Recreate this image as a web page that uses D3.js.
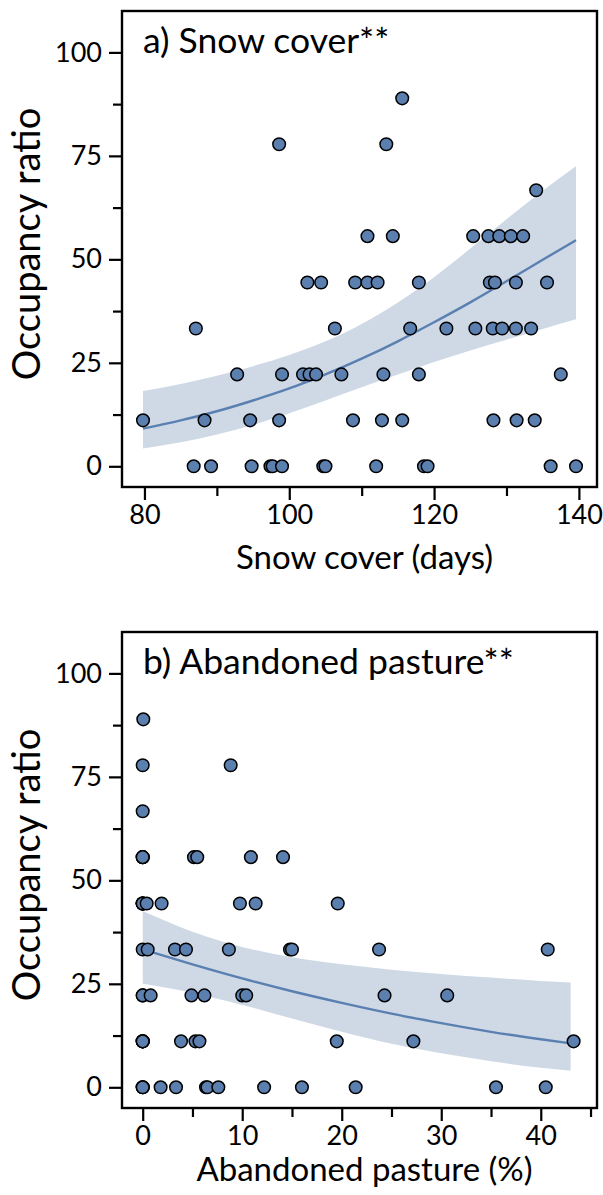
<!DOCTYPE html>
<html>
<head>
<meta charset="utf-8">
<script src="https://cdn.jsdelivr.net/npm/d3@7"></script>
<style>
  html, body { margin: 0; padding: 0; background: #fff; }
  svg { display: block; }
  text { font-family: "Lato", "Open Sans", sans-serif; fill: #000; }
</style>
</head>
<body>
<svg id="chart" width="603" height="1195"></svg>
<script>
// ---- Panel a: occupancy vs snow cover ----
const snowDays = [
  86.8, 89.2, 94.8, 97.4, 97.7, 99.0, 104.7, 105.0, 112.0, 118.6, 119.1, 136.1, 139.6,
  79.8, 88.3, 94.6, 98.6, 108.8, 112.8, 115.6, 128.2, 131.4, 133.9,
  92.8, 99.0, 101.9, 102.8, 103.7, 107.2, 113.0, 117.9, 137.5,
  87.1, 106.3, 116.7, 121.7, 125.7, 128.1, 129.4, 131.3, 133.4,
  102.5, 104.4, 109.1, 110.8, 112.2, 117.9, 127.7, 128.4, 131.3, 135.6,
  110.8, 114.3, 125.4, 127.5, 129.0, 130.6, 132.3,
  134.1,
  98.6, 113.4,
  115.6
];
const snowOcc = [
  0, 0, 0, 0, 0, 0, 0, 0, 0, 0, 0, 0, 0,
  11.1, 11.1, 11.1, 11.1, 11.1, 11.1, 11.1, 11.1, 11.1, 11.1,
  22.2, 22.2, 22.2, 22.2, 22.2, 22.2, 22.2, 22.2, 22.2,
  33.3, 33.3, 33.3, 33.3, 33.3, 33.3, 33.3, 33.3, 33.3,
  44.4, 44.4, 44.4, 44.4, 44.4, 44.4, 44.4, 44.4, 44.4, 44.4,
  55.6, 55.6, 55.6, 55.6, 55.6, 55.6, 55.6,
  66.7,
  77.8, 77.8,
  88.9
];
// fitted curve with 95% band
const snowFitX  = [79.8, 85, 90, 95, 100, 105, 110, 115, 120, 125, 130, 135, 139.6];
const snowFit   = [9.1, 11.1, 13.3, 15.9, 18.8, 22.2, 26.0, 30.2, 34.8, 39.6, 44.7, 49.9, 54.6];
const snowLower = [4.3, 5.8, 7.7, 10.0, 12.8, 15.9, 19.1, 22.2, 25.2, 28.0, 30.6, 33.2, 35.5];
const snowUpper = [18.2, 19.9, 21.9, 24.2, 26.9, 30.2, 34.4, 39.6, 45.7, 52.6, 59.7, 66.6, 72.5];

// ---- Panel b: occupancy vs abandoned pasture ----
const pastPct = [
  0, 0, 0, 1.8, 3.35, 6.36, 6.5, 7.6, 12.2, 16.0, 21.4, 35.5, 40.5,
  0, 0, 0, 0, 3.85, 5.3, 5.7, 19.5, 27.2, 43.3,
  0, 0, 0.8, 4.9, 6.2, 10.0, 10.4, 24.3, 30.6,
  0, 0.5, 3.24, 4.35, 8.66, 14.8, 15.0, 23.75, 40.7,
  0, 0, 0, 0, 0, 0.4, 1.9, 9.77, 11.35, 19.6,
  0, 0, 0, 5.15, 5.48, 10.87, 14.1,
  0,
  0, 8.84,
  0.06
];
const pastOcc = [
  0, 0, 0, 0, 0, 0, 0, 0, 0, 0, 0, 0, 0,
  11.1, 11.1, 11.1, 11.1, 11.1, 11.1, 11.1, 11.1, 11.1, 11.1,
  22.2, 22.2, 22.2, 22.2, 22.2, 22.2, 22.2, 22.2, 22.2,
  33.3, 33.3, 33.3, 33.3, 33.3, 33.3, 33.3, 33.3, 33.3,
  44.4, 44.4, 44.4, 44.4, 44.4, 44.4, 44.4, 44.4, 44.4, 44.4,
  55.6, 55.6, 55.6, 55.6, 55.6, 55.6, 55.6,
  66.7,
  77.8, 77.8,
  88.9
];
const pastFitX  = [0, 5, 10, 15, 20, 25, 30, 35, 40, 43];
const pastFit   = [33.3, 29.7, 26.3, 23.2, 20.4, 17.8, 15.5, 13.4, 11.6, 10.6];
const pastLower = [25.0, 22.8, 19.9, 16.6, 13.4, 10.5, 8.2, 6.3, 4.7, 4.0];
const pastUpper = [42.6, 37.6, 33.9, 31.4, 29.7, 28.4, 27.4, 26.5, 25.7, 25.3];

// ---- axis settings ----
const yMajor = [0, 25, 50, 75, 100];
const yMinor = [12.5, 37.5, 62.5, 87.5];
const snowMajor = [80, 100, 120, 140];
const snowMinor = [90, 110, 130];
const pastMajor = [0, 10, 20, 30, 40];
const pastMinor = [5, 15, 25, 35, 45];

const colPoint = "#5b7fae";
const colLine = "#5a7fb1";
const colBand = "#cfd9e6";

const svg = d3.select("#chart");

function panel(opts) {
  const { top, bottom, left, right, xDomain, xs, ys, fx, fit, lo, hi,
          xMajor, xMinor, title, xTitle, xTitleGap } = opts;
  const x = d3.scaleLinear().domain(xDomain).range([left, right]);
  const y = d3.scaleLinear().domain([-5, 110]).range([bottom, top]);
  const g = svg.append("g");

  const band = fx.map((v, i) => ({ x: v, lo: lo[i], hi: hi[i], f: fit[i] }));
  g.append("path")
    .datum(band)
    .attr("fill", colBand)
    .attr("d", d3.area().curve(d3.curveMonotoneX)
      .x(d => x(d.x)).y0(d => y(d.lo)).y1(d => y(d.hi)));
  g.append("path")
    .datum(band)
    .attr("fill", "none")
    .attr("stroke", colLine)
    .attr("stroke-width", 2.4)
    .attr("d", d3.line().curve(d3.curveMonotoneX)
      .x(d => x(d.x)).y(d => y(d.f)));

  const pts = xs.map((v, i) => ({ x: v, y: ys[i] }));
  g.append("g").selectAll("circle")
    .data(pts)
    .join("circle")
    .attr("cx", d => x(d.x))
    .attr("cy", d => y(d.y))
    .attr("r", 6.3)
    .attr("fill", colPoint)
    .attr("stroke", "#000")
    .attr("stroke-width", 1.5);

  // frame
  g.append("rect")
    .attr("x", left).attr("y", top)
    .attr("width", right - left).attr("height", bottom - top)
    .attr("fill", "none").attr("stroke", "#000").attr("stroke-width", 2.4);

  // y axis: major ticks with labels, minor ticks without
  const yAx = g.append("g").attr("transform", `translate(${left - 1},0)`);
  yAx.call(d3.axisLeft(y).tickValues(yMajor).tickSize(12).tickPadding(7).tickFormat(d3.format("d")));
  const yAx2 = g.append("g").attr("transform", `translate(${left - 1},0)`);
  yAx2.call(d3.axisLeft(y).tickValues(yMinor).tickSize(8).tickFormat(""));

  const xAx = g.append("g").attr("transform", `translate(0,${bottom + 1})`);
  xAx.call(d3.axisBottom(x).tickValues(xMajor).tickSize(12).tickPadding(5).tickFormat(d3.format("d")));
  const xAx2 = g.append("g").attr("transform", `translate(0,${bottom + 1})`);
  xAx2.call(d3.axisBottom(x).tickValues(xMinor).tickSize(8).tickFormat(""));

  g.selectAll(".domain").remove();
  g.selectAll(".tick line").attr("stroke", "#000").attr("stroke-width", 2.2);
  g.selectAll(".tick text")
    .style("font-family", "Lato, 'Open Sans', sans-serif")
    .style("font-size", "27px")
    .attr("fill", "#000");

  g.append("text")
    .attr("x", left + 21).attr("y", top + 42)
    .style("font-size", "35.5px")
    .text(title);

  g.append("text")
    .attr("x", (left + right) / 2 + 5).attr("y", bottom + xTitleGap)
    .attr("text-anchor", "middle")
    .style("font-size", "33px")
    .text(xTitle);

  g.append("text")
    .attr("transform", `translate(40,${(top + bottom) / 2 - 5}) rotate(-90)`)
    .attr("text-anchor", "middle")
    .style("font-size", "38px")
    .text("Occupancy ratio");
}

panel({
  top: 11, bottom: 487, left: 122, right: 597,
  xDomain: [76.9, 142.5], xs: snowDays, ys: snowOcc,
  fx: snowFitX, fit: snowFit, lo: snowLower, hi: snowUpper,
  xMajor: snowMajor, xMinor: snowMinor,
  title: "a) Snow cover**", xTitle: "Snow cover (days)", xTitleGap: 82
});

panel({
  top: 632, bottom: 1108, left: 122, right: 597,
  xDomain: [-2.08, 45.65], xs: pastPct, ys: pastOcc,
  fx: pastFitX, fit: pastFit, lo: pastLower, hi: pastUpper,
  xMajor: pastMajor, xMinor: pastMinor,
  title: "b) Abandoned pasture**", xTitle: "Abandoned pasture (%)", xTitleGap: 73
});
</script>
</body>
</html>
